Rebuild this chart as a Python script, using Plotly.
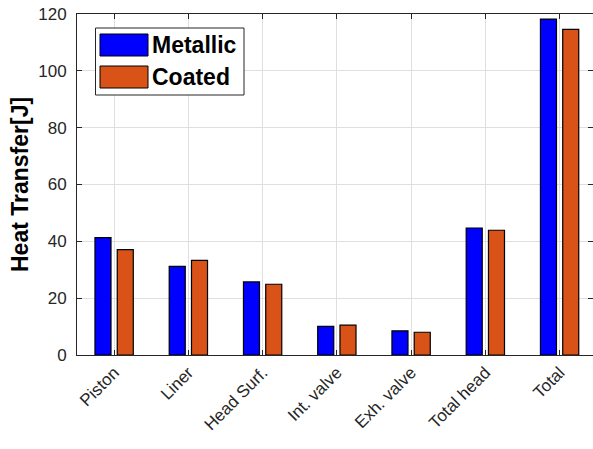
import plotly.graph_objects as go

categories = ["Piston", "Liner", "Head Surf.", "Int. valve", "Exh. valve", "Total head", "Total"]
metallic = [41.3, 31.2, 25.7, 10.1, 8.5, 44.7, 118.2]
coated = [37.1, 33.3, 24.9, 10.5, 8.0, 43.9, 114.6]
series_names = ["Metallic", "Coated"]
series_colors = ["#0000FF", "#D95319"]
y_ticks = [0, 20, 40, 60, 80, 100, 120]

W, H = 593, 449
ML, MR, MT, MB = 77, 0, 14, 94
PW, PH = W - ML - MR, H - MT - MB

def px(x_page):
    return (x_page - ML) / PW

def py(y_page):
    return (MT + PH - y_page) / PH

font_family = "Liberation Sans, Arial, sans-serif"
txt = "#262626"

fig = go.Figure()
for name, vals, col in zip(series_names, [metallic, coated], series_colors):
    fig.add_trace(go.Bar(
        x=categories, y=vals, name=name, showlegend=False,
        marker=dict(color=col, line=dict(color="#000000", width=1.2)),
    ))

fig.update_layout(
    width=W, height=H,
    margin=dict(l=ML, r=MR, t=MT, b=MB, pad=0, autoexpand=False),
    paper_bgcolor="white", plot_bgcolor="white",
    barmode="group", bargap=0.4, bargroupgap=0.28,
    font=dict(family=font_family, size=17, color=txt),
)
fig.update_xaxes(
    type="category", range=[-0.5, 6.45], automargin=False,
    tickangle=-45, tickfont=dict(size=17, color=txt),
    showgrid=True, gridcolor="#dfdfdf", gridwidth=1,
    showline=True, linecolor="#262626", linewidth=1, mirror="ticks",
    ticks="inside", ticklen=5, tickcolor="#262626",
)
fig.update_yaxes(
    range=[0, 120], tickvals=y_ticks, automargin=False,
    tickfont=dict(size=17, color=txt),
    showgrid=True, gridcolor="#dfdfdf", gridwidth=1,
    showline=True, linecolor="#262626", linewidth=1, mirror="ticks",
    ticks="inside", ticklen=5, tickcolor="#262626",
    ticklabelstandoff=6, zeroline=False,
)

# y-axis title
fig.add_annotation(xref="paper", yref="paper", x=px(20), y=py(185),
                   text="<b>Heat Transfer[J]</b>", showarrow=False, textangle=-90,
                   xanchor="center", yanchor="middle",
                   font=dict(size=23, color="#000000", family=font_family))

# custom legend (MATLAB style large swatches)
fig.add_shape(type="rect", xref="paper", yref="paper",
              x0=px(95.5), x1=px(244), y0=py(95), y1=py(28),
              line=dict(color="#262626", width=1), fillcolor="white", layer="above")
sw_rows = [(34, 56), (66, 88)]
for (y0, y1), name, col in zip(sw_rows, series_names, series_colors):
    fig.add_shape(type="rect", xref="paper", yref="paper",
                  x0=px(100), x1=px(148), y0=py(y1), y1=py(y0),
                  line=dict(color="#000000", width=1), fillcolor=col, layer="above")
    fig.add_annotation(xref="paper", yref="paper", x=px(150), y=py((y0 + y1) / 2),
                       text=f"<b>{name}</b>", showarrow=False, xanchor="left", yanchor="middle",
                       font=dict(size=23, color="#000000", family=font_family))

# remove the browser's default 8px body margin so the figure fills the window
fig.write_html("out.html", config={"displayModeBar": False},
               post_script="document.body.style.margin='0';")
